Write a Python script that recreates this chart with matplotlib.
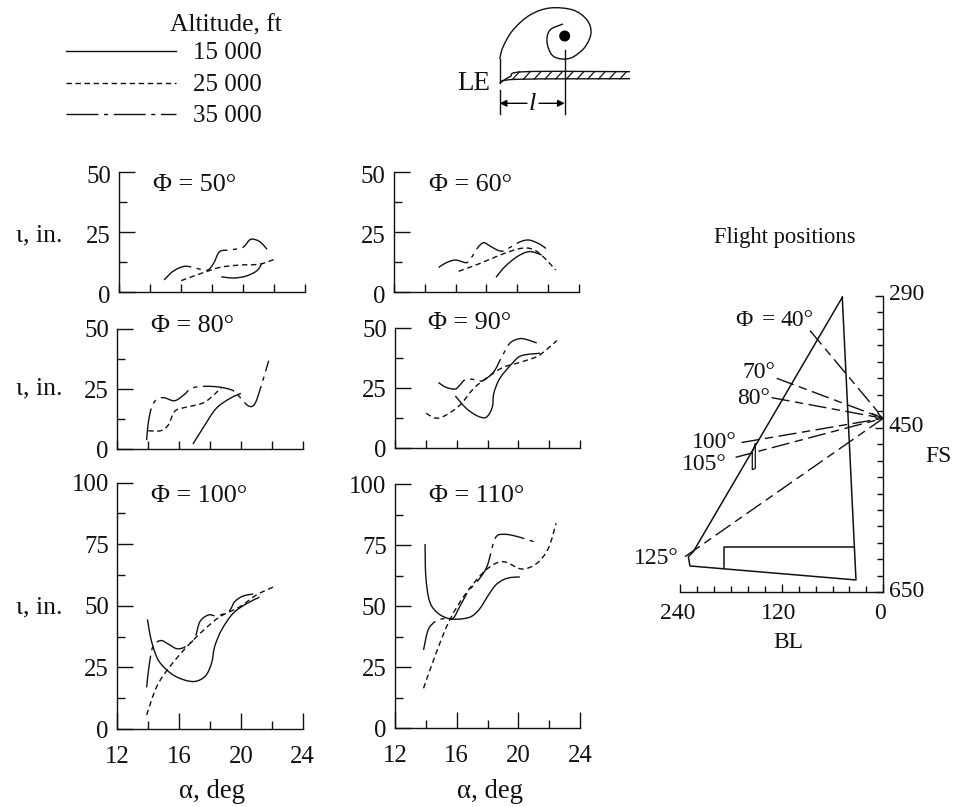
import numpy as np
from matplotlib import pyplot as plt
from matplotlib.path import Path
from matplotlib.patches import PathPatch, Circle
from matplotlib.transforms import ScaledTranslation

plt.rcParams['font.family'] = ['Liberation Serif', 'DejaVu Sans']
plt.rcParams['lines.scale_dashes'] = False

W, H = 956, 807
INK = '#111111'

altitudes = ['15 000', '25 000', '35 000']

# alpha, l for each sweep position
p50_15_a = [18.6, 19.4, 20.2, 20.9, 21.2]
p50_15_l = [6.2, 5.7, 6.5, 8.7, 11.5]
p50_25_a = [16.0, 17.2, 18.5, 19.8, 21.1, 22.2]
p50_25_l = [4.6, 7.4, 10.1, 11.1, 11.5, 13.9]
p50_35_a = [14.9, 15.5, 16.25, 17.0, 17.7, 18.1, 18.5, 19.2, 20.0, 20.5, 21.1, 21.65]
p50_35_l = [4.9, 8.6, 10.6, 9.7, 9.0, 11.8, 16.7, 17.4, 18.5, 21.8, 20.8, 17.0]

p60_15_a = [18.63, 19.2, 20.0, 20.8, 21.6]
p60_15_l = [6.0, 10.4, 14.6, 16.7, 15.3]
p60_25_a = [16.2, 17.6, 18.9, 20.2, 21.05, 21.8, 22.5]
p60_25_l = [8.5, 11.8, 15.3, 18.0, 17.6, 13.9, 9.0]
p60_35_a = [14.9, 15.4, 16.0, 16.7, 17.0, 17.4, 17.8, 18.2, 18.7, 19.1, 19.5, 20.2, 20.8, 21.5, 21.9]
p60_35_l = [10.1, 12.1, 13.2, 12.1, 13.9, 18.0, 20.4, 19.2, 17.4, 16.9, 18.3, 20.8, 21.5, 19.7, 17.8]

p80_15_a = [16.9, 17.6, 18.4, 19.3, 20.0]
p80_15_l = [2.1, 9.3, 16.9, 21.1, 23.2]
p80_25_a = [14.0, 14.8, 15.3, 15.7, 16.3, 17.4, 18.0, 18.75]
p80_25_l = [7.6, 7.6, 10.0, 15.6, 17.2, 18.8, 21.1, 25.7]
p80_35_a = [13.9, 14.0, 14.2, 14.5, 15.0, 15.7, 16.3, 16.8, 17.6, 18.6, 19.5, 20.0, 20.5, 20.9, 21.3, 21.8]
p80_35_l = [3.7, 10.7, 16.9, 20.4, 21.4, 20.1, 22.5, 25.3, 26.1, 25.8, 24.3, 21.1, 17.9, 18.8, 26.0, 36.8]

p90_15_a = [15.9, 16.6, 17.3, 17.9, 18.3, 18.4, 18.8, 19.6, 20.2, 21.4]
p90_15_l = [21.8, 16.7, 13.6, 12.9, 17.1, 22.9, 29.2, 35.4, 38.6, 39.6]
p90_25_a = [14.0, 14.6, 15.2, 16.2, 17.1, 18.0, 19.0, 20.1, 21.2, 21.8, 22.5]
p90_25_l = [14.6, 12.6, 13.5, 18.0, 25.0, 29.6, 33.7, 35.8, 38.2, 41.0, 44.9]
p90_35_a = [14.8, 15.3, 15.9, 16.2, 16.6, 17.3, 17.7, 18.4, 18.9, 19.45, 20.1, 20.75, 21.4]
p90_35_l = [27.4, 25.4, 24.7, 26.4, 28.8, 28.5, 28.2, 31.9, 37.9, 43.8, 45.7, 44.9, 43.3]

p100_15_a = [13.95, 14.2, 14.65, 15.4, 16.15, 17.0, 17.7, 18.1, 18.3, 18.75, 19.5, 20.4, 21.2]
p100_15_l = [44.5, 36.0, 28.0, 22.9, 20.3, 19.3, 21.5, 26.7, 33.4, 40.2, 47.0, 51.0, 53.5]
p100_25_a = [13.9, 14.55, 15.4, 16.5, 17.6, 18.65, 19.95, 21.0, 22.15]
p100_25_l = [5.7, 17.2, 25.3, 33.4, 40.2, 45.6, 49.7, 54.4, 57.8]
p100_35_a = [13.9, 14.05, 14.3, 14.8, 15.3, 15.85, 16.4, 17.0, 17.35, 17.9, 18.4, 19.2, 19.6, 20.15, 21.0]
p100_35_l = [16.9, 25.3, 33.4, 35.9, 34.5, 32.6, 33.4, 36.8, 43.6, 46.3, 46.0, 47.6, 51.7, 54.0, 55.0]

p110_15_a = [13.95, 14.0, 14.25, 14.8, 15.55, 16.4, 17.0, 17.5, 18.0, 18.5, 19.0, 19.5, 20.1]
p110_15_l = [75.5, 62.2, 51.9, 47.1, 44.9, 44.9, 46.0, 49.0, 54.0, 58.5, 60.8, 61.8, 62.0]
p110_25_a = [13.85, 14.7, 15.55, 16.6, 17.9, 19.0, 20.2, 21.2, 21.95, 22.45]
p110_25_l = [16.4, 31.4, 44.4, 55.3, 64.9, 68.3, 65.3, 67.6, 73.8, 84.0]
p110_35_a = [13.85, 14.15, 14.6, 15.1, 15.75, 16.2, 16.75, 17.5, 18.0, 18.5, 19.1, 20.1, 21.3]
p110_35_l = [32.1, 40.3, 43.7, 44.9, 45.0, 49.9, 56.0, 61.5, 66.9, 77.9, 79.5, 78.3, 75.8]

# wing planform, BL / FS
wing_bl = [48.5, 224.6, 230.5, 228.6, 32.3, 48.5]
wing_fs = [291.6, 600.6, 606.7, 618.0, 635.0, 291.6]
flap_bl = [34.3, 188.4, 188.4]
flap_fs = [595.0, 595.0, 620.8]
fence_bl = [151.3, 154.9, 154.9, 151.3, 151.3]
fence_fs = [469.8, 479.0, 501.0, 499.4, 469.8]

# sweep positions: label, BL and FS where the ray starts
ray_names = ['40', '70', '80', '100', '105', '125']
ray_bl = [86.7, 126.0, 132.0, 167.5, 174.6, 234.5]
ray_fs = [332.0, 390.0, 413.5, 468.0, 486.0, 606.7]
origin_bl, origin_fs = 0.0, 438.6

styles = [
    '-',
    (0, (3.9, 2.6)),
    (0, (23, 4, 3, 4)),
]
lw = 1.0


def px_box(left, top, right, bottom):
    return [left / W, 1 - bottom / H, (right - left) / W, (bottom - top) / H]


def smooth(ax, xs, ys, ls):
    # bezier through the read points so the curves are not angular
    pts = np.column_stack([xs, ys])
    prev = np.vstack([pts[0], pts[:-1]])
    nxt = np.vstack([pts[1:], pts[-1]])
    tang = (nxt - prev) / 6
    verts = [pts[0]]
    codes = [Path.MOVETO]
    for i in range(len(pts) - 1):
        verts += [pts[i] + tang[i], pts[i + 1] - tang[i + 1], pts[i + 1]]
        codes += [Path.CURVE4] * 3
    ax.add_patch(PathPatch(Path(verts, codes), fc='none', ec=INK, lw=lw, ls=ls))


def nudge(labels, dx=0, dy=0):
    # dx, dy in pixels, y down
    for t in labels:
        t.set_transform(t.get_transform() + ScaledTranslation(dx / 100, -dy / 100, fig.dpi_scale_trans))


def panel(box, ymax, curves, bottom_row=False, ylab_shift=0):
    ax = fig.add_axes(px_box(*box))
    ax.set_xlim(12, 24)
    ax.set_ylim(0, ymax)
    ax.spines[['top', 'right']].set_visible(False)
    ax.spines[['left', 'bottom']].set_linewidth(1.0)
    ax.spines[['left', 'bottom']].set_color(INK)
    if bottom_row:
        ax.set_xticks([12, 16, 20, 24])
        ax.set_xticks([14, 18, 22], minor=True)
        ax.tick_params(axis='x', which='major', length=11.5)
    else:
        ax.set_xticks([12, 14, 16, 18, 20, 22, 24])
        ax.set_xticklabels([])
        ax.tick_params(axis='x', which='major', length=5.8)
    step = 25
    ax.set_yticks(np.arange(0, ymax + 1, step))
    ax.set_yticks(np.arange(12.5, ymax, step), minor=True)
    ax.tick_params(axis='both', which='both', direction='in', width=1.0, color=INK)
    ax.tick_params(axis='y', which='major', length=11.5, pad=6)
    ax.tick_params(axis='both', which='minor', length=5.8)
    ax.tick_params(axis='x', which='major', pad=12)
    ax.tick_params(labelsize=17.8, labelcolor=INK)
    nudge(ax.get_yticklabels(), dy=ylab_shift)
    for (xs, ys), ls in zip(curves, styles):
        smooth(ax, xs, ys, ls)
    return ax


fig = plt.figure(figsize=(W / 100, H / 100), dpi=100)

panel((119.3, 171.7, 304.7, 291.7), 50,
      [(p50_15_a, p50_15_l), (p50_25_a, p50_25_l), (p50_35_a, p50_35_l)], ylab_shift=3)
panel((394, 171.7, 578.7, 291.7), 50,
      [(p60_15_a, p60_15_l), (p60_25_a, p60_25_l), (p60_35_a, p60_35_l)], ylab_shift=3)
panel((117.3, 329, 302.7, 449), 50,
      [(p80_15_a, p80_15_l), (p80_25_a, p80_25_l), (p80_35_a, p80_35_l)])
panel((395.3, 328.3, 580, 448.3), 50,
      [(p90_15_a, p90_15_l), (p90_25_a, p90_25_l), (p90_35_a, p90_35_l)])
panel((117.3, 482.7, 302.7, 729), 100,
      [(p100_15_a, p100_15_l), (p100_25_a, p100_25_l), (p100_35_a, p100_35_l)], True)
panel((395, 484.3, 580, 728.3), 100,
      [(p110_15_a, p110_15_l), (p110_25_a, p110_25_l), (p110_35_a, p110_35_l)], True)

# flight positions planform
ax = fig.add_axes(px_box(680.3, 296, 883.3, 592.3))
ax.set_xlim(240, 0)
ax.set_ylim(650, 290)
ax.spines[['top', 'left']].set_visible(False)
ax.spines[['right', 'bottom']].set_linewidth(1.0)
ax.spines[['right', 'bottom']].set_color(INK)
ax.yaxis.tick_right()
ax.set_xticks([240, 120, 0])
ax.set_xticks(np.arange(20, 240, 20), minor=True)
ax.set_yticks([290, 450, 650])
ax.set_yticks(np.arange(310, 650, 20), minor=True)
ax.tick_params(axis='both', which='both', direction='in', width=1.0, color=INK)
ax.tick_params(axis='both', which='major', length=5.8, labelsize=17, labelcolor=INK)
ax.tick_params(axis='both', which='minor', length=4.2)
ax.tick_params(axis='x', which='major', pad=8)
ax.tick_params(axis='y', which='major', pad=4)
nudge(ax.get_xticklabels(), dx=-3)
nudge(ax.get_yticklabels(), dy=-3.5)
ax.plot(wing_bl, wing_fs, color=INK, lw=1.1)
ax.plot(flap_bl, flap_fs, color=INK, lw=1.1)
ax.plot(fence_bl, fence_fs, color=INK, lw=0.9)
for b, f in zip(ray_bl, ray_fs):
    ax.plot([b, origin_bl], [f, origin_fs], color=INK, lw=1.0, ls=(0, (13, 4, 6, 4)))
ax.annotate('', xy=(origin_bl, origin_fs), xytext=(13, 433),
            arrowprops=dict(arrowstyle='->', color=INK, lw=1.0, shrinkA=0, shrinkB=0))

# everything else is placed in picture pixels
ov = fig.add_axes([0, 0, 1, 1], facecolor='none')
ov.set_xlim(0, W)
ov.set_ylim(H, 0)
ov.axis('off')


def label(x, y, s, size=17, ha='center'):
    ov.text(x, y, s, fontsize=size, ha=ha, va='center', color=INK)


# legend
label(170, 25, 'Altitude, ft', 18.4, 'left')
for y, name, ls in zip([50.7, 82.7, 114.3], altitudes, styles):
    ov.plot([66, 176], [y, y], color=INK, lw=lw, ls=ls)
    label(193, y + 2, name, 18, 'left')

# vortex sketch
vortex_x = [499.7, 503, 513, 530, 550, 573, 587, 591, 585, 573, 562, 552, 547, 550, 563]
vortex_y = [59, 47, 30, 15, 8, 10, 20, 33, 47, 57, 59, 55, 42, 30, 24]
smooth(ov, vortex_x, vortex_y, '-')
ov.add_patch(Circle((564.7, 36), 4.8, color='black'))
ov.plot([499.7, 499.7], [59, 83], color=INK, lw=lw)
ov.plot([499.7, 499.7], [90, 113.5], color=INK, lw=lw)
ov.plot([564.7, 564.7], [50, 114], color=INK, lw=lw)
smooth(ov, [499.7, 510, 525, 630], [83, 76.7, 71.7, 71.7], '-')
smooth(ov, [499.7, 517, 630], [83, 79.3, 78.7], '-')
for hx in np.arange(513, 630, 10.7):
    ov.plot([hx, hx + 6.5], [78.9, 71.7], color=INK, lw=0.9)
ov.annotate('', xy=(499.7, 103.3), xytext=(527, 103.3),
            arrowprops=dict(arrowstyle='-|>', color='black', lw=1.0, shrinkA=0, shrinkB=0))
ov.annotate('', xy=(564.7, 103.3), xytext=(539, 103.3),
            arrowprops=dict(arrowstyle='-|>', color='black', lw=1.0, shrinkA=0, shrinkB=0))
ov.text(532, 104, 'l', fontsize=19, ha='center', va='center', style='italic', color=INK)
label(474, 83, 'LE', 19.5)

# panel titles and axis names
label(152.7, 185, 'Φ = 50°', 18.8, 'left')
label(429, 185, 'Φ = 60°', 18.8, 'left')
label(151, 325.5, 'Φ = 80°', 18.8, 'left')
label(428, 323, 'Φ = 90°', 18.8, 'left')
label(151, 495.5, 'Φ = 100°', 18.8, 'left')
label(429, 495.5, 'Φ = 110°', 18.8, 'left')
for y in [235, 388, 607]:
    label(39, y, 'ι, in.', 18.5)
label(212, 792, 'α, deg', 19.3)
label(490, 792, 'α, deg', 19.3)

# flight positions text
label(785, 238, 'Flight positions', 16.3)
label(735, 320, 'Φ', 17, 'left')
label(762, 320, '=', 17, 'left')
label(781, 320, f'{ray_names[0]}°', 17, 'left')
label(759, 373, f'{ray_names[1]}°')
label(754, 398, f'{ray_names[2]}°')
label(714, 443, f'{ray_names[3]}°')
label(704, 465, f'{ray_names[4]}°')
label(656, 559, f'{ray_names[5]}°')
label(939, 457, 'FS')
label(788, 642, 'BL')

plt.savefig('out.png', dpi=100)
